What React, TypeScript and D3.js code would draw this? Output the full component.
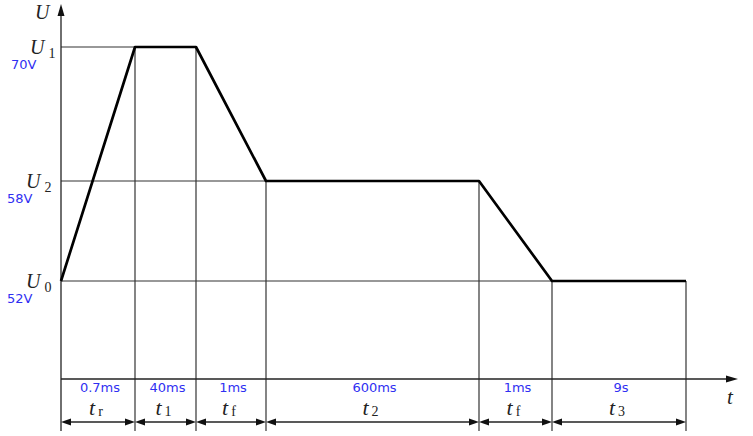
import React from "react";
import * as d3 from "d3";

// Schematic data
const segments = ["r", "1", "f", "2", "f", "3"];
const durations = ["0.7ms", "40ms", "1ms", "600ms", "1ms", "9s"];
const segWidths = [74, 61, 70, 213, 73, 134]; // schematic (not-to-scale) widths
const levelNames = ["0", "2", "1"];
const levelValues = [52, 58, 70];
const levelLabels = ["52V", "58V", "70V"];
// waveform: voltage at each segment boundary
const waveV = [52, 70, 70, 58, 58, 52, 52];

const W = 753, H = 436;

export default function App() {
  const bounds = [0];
  segWidths.forEach((w) => bounds.push(bounds[bounds.length - 1] + w));
  const total = bounds[bounds.length - 1];
  const x = d3.scaleLinear().domain([0, total]).range([61, 686]);
  const y = d3.scaleLinear().domain(levelValues).range([281, 181, 47]);
  const axisY = 379;
  const dimY = 422;
  const bottom = 431;

  const line = d3.line<number>().x((_, i) => x(bounds[i])).y((v) => y(v));
  const waveD = line(waveV) || "";

  const serif = "'Liberation Serif', 'DejaVu Serif', serif";
  const sans = "'DejaVu Sans', sans-serif";
  const blue = "#2f2ff2";
  const thin = "#333";

  const arrow = (x1: number, x2: number, key: string) => {
    const a = 10, h = 3.5;
    return (
      <g key={key}>
        <line x1={x1 + a} x2={x2 - a} y1={dimY} y2={dimY} stroke="#222" strokeWidth={1.3} />
        <path d={`M${x1},${dimY} L${x1 + a},${dimY - h} L${x1 + a},${dimY + h} Z`} fill="#111" />
        <path d={`M${x2},${dimY} L${x2 - a},${dimY - h} L${x2 - a},${dimY + h} Z`} fill="#111" />
      </g>
    );
  };

  return (
    <svg width={W} height={H} style={{ position: "absolute", left: 0, top: 0, background: "#fff" }}>
      {/* horizontal level reference lines */}
      {levelValues.map((v, i) => {
        const first = waveV.indexOf(v);
        const xe = v === 52 ? x(bounds[5]) : x(bounds[first]);
        return <line key={i} x1={x(0)} x2={xe} y1={y(v)} y2={y(v)} stroke={thin} strokeWidth={1.2} />;
      })}
      {/* vertical boundary lines */}
      {bounds.slice(1).map((b, i) => (
        <line key={i} x1={x(b)} x2={x(b)} y1={y(waveV[i + 1])} y2={bottom} stroke={thin} strokeWidth={1.2} />
      ))}
      {/* y axis */}
      <line x1={x(0)} x2={x(0)} y1={12} y2={bottom} stroke="#222" strokeWidth={1.3} />
      <path d={`M${x(0)},4 L${x(0) - 3.5},16 L${x(0) + 3.5},16 Z`} fill="#111" />
      {/* t axis */}
      <line x1={x(0)} x2={728} y1={axisY} y2={axisY} stroke="#222" strokeWidth={1.3} />
      <path d={`M738,${axisY} L726,${axisY - 3.5} L726,${axisY + 3.5} Z`} fill="#111" />
      {/* waveform */}
      <path d={waveD} fill="none" stroke="#000" strokeWidth={2.7} strokeLinejoin="round" />
      {/* axis labels */}
      <text x={35} y={19} fontFamily={serif} fontStyle="italic" fontSize={20} fill="#222">U</text>
      <text x={727} y={404} fontFamily={serif} fontStyle="italic" fontSize={21} fill="#222">t</text>
      {/* level labels */}
      {levelValues.map((v, i) => (
        <g key={i}>
          <text x={i === 2 ? 30 : 26} y={y(v) + 7} fontFamily={serif} fontSize={20} fill="#222">
            <tspan fontStyle="italic">U</tspan>
            <tspan dx={4} dy={4} fontSize={14}>{levelNames[i]}</tspan>
          </text>
          <text x={i === 2 ? 11 : 7} y={y(v) + 22} fontFamily={sans} fontSize={13} fill={blue}>{levelLabels[i]}</text>
        </g>
      ))}
      {/* segment labels */}
      {segments.map((s, i) => {
        const cx = (x(bounds[i]) + x(bounds[i + 1])) / 2;
        return (
          <g key={i}>
            <text x={cx + 2} y={392} textAnchor="middle" fontFamily={sans} fontSize={13} fill={blue}>{durations[i]}</text>
            <text x={cx - 2} y={415} textAnchor="middle" fontFamily={serif} fontSize={22} fill="#222">
              <tspan fontStyle="italic">t</tspan>
              <tspan dx={3} dy={1} fontSize={14}>{s}</tspan>
            </text>
            {arrow(x(bounds[i]), x(bounds[i + 1]), "a" + i)}
          </g>
        );
      })}
    </svg>
  );
}
